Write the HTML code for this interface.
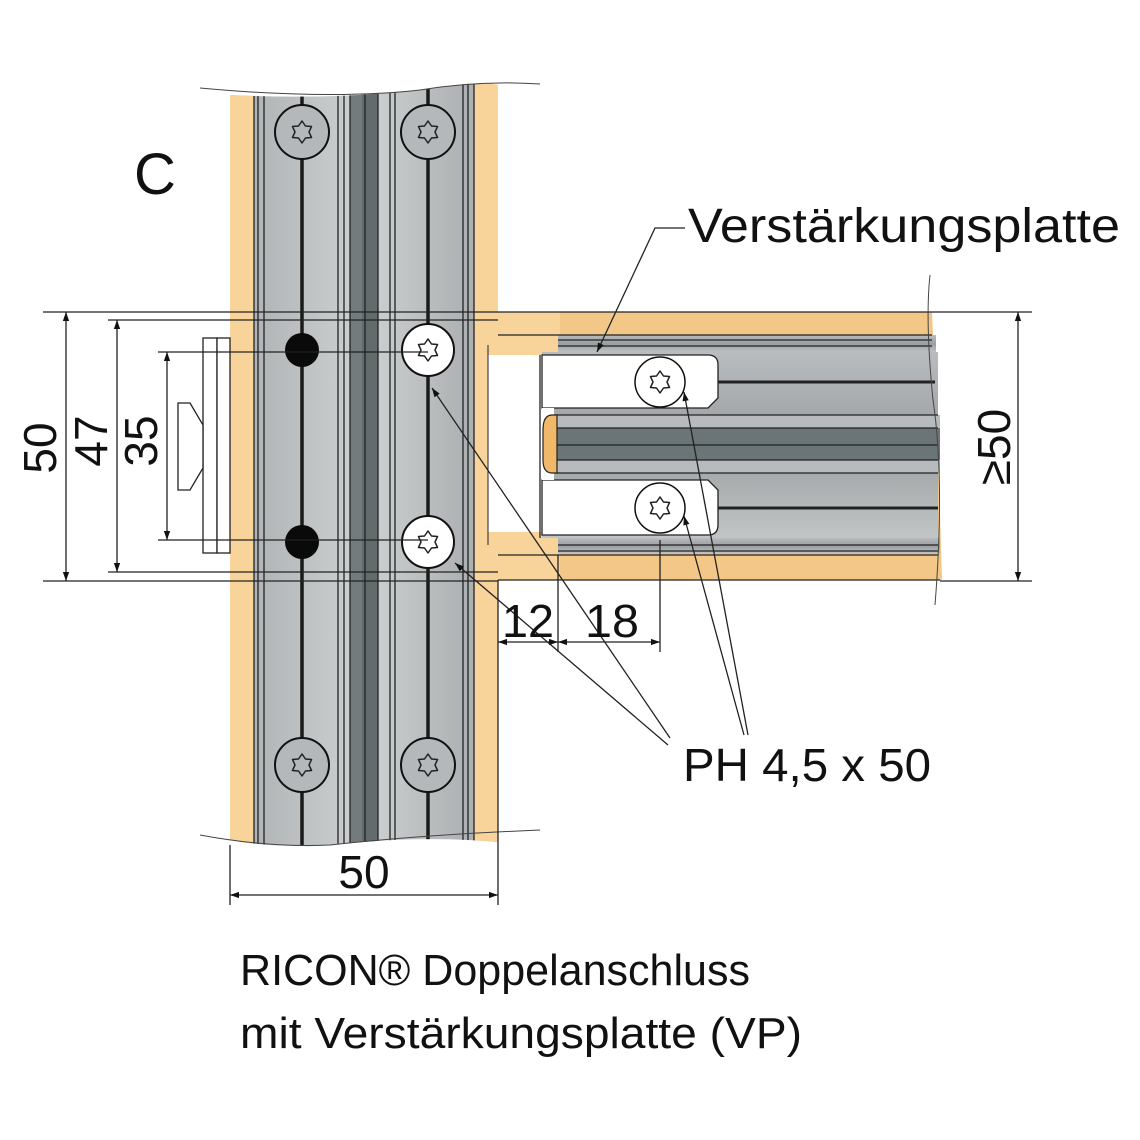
<!DOCTYPE html>
<html><head><meta charset="utf-8"><style>html,body{margin:0;padding:0;background:#fff}svg{display:block}</style></head>
<body>
<svg width="1140" height="1140" viewBox="0 0 1140 1140" xmlns="http://www.w3.org/2000/svg" font-family="'Liberation Sans', sans-serif">
<defs>
<linearGradient id="mg" x1="0" x2="1" y1="0" y2="0">
<stop offset="0" stop-color="#a9adaf"/><stop offset="0.5" stop-color="#cfd2d3"/><stop offset="1" stop-color="#a3a7a9"/>
</linearGradient>
<linearGradient id="hg" x1="0" x2="0" y1="0" y2="1">
<stop offset="0" stop-color="#b9bcbe"/><stop offset="0.5" stop-color="#9a9ea0"/><stop offset="1" stop-color="#c2c5c6"/>
</linearGradient>
<clipPath id="vclip"><path d="M230 95 Q330 100 420 90 Q480 80 498 85 L498 842 Q420 835 330 845 Q270 848 230 840 Z"/></clipPath>
<g id="star"><polygon points="0,-11 3.5,-6 9.53,-5.5 7,0 9.53,5.5 3.5,6 0,11 -3.5,6 -9.53,5.5 -7,0 -9.53,-5.5 -3.5,-6" fill="none" stroke="#222" stroke-width="1.5" stroke-linejoin="round"/></g>
<marker id="ar" viewBox="0 0 10 10" refX="10" refY="5" markerWidth="16" markerHeight="9" orient="auto-start-reverse" markerUnits="userSpaceOnUse"><path d="M0 1.5 L10 5 L0 8.5Z" fill="#111"/></marker>
</defs>

<g clip-path="url(#vclip)">
<rect x="230" y="60" width="268" height="820" fill="url(#mg)"/>
<rect x="230" y="60" width="24" height="820" fill="#f8d49a"/>
<rect x="474" y="60" width="24" height="820" fill="#f8d49a"/>
<rect x="350" y="60" width="28" height="820" fill="#737b7d"/>
<rect x="362" y="60" width="16" height="820" fill="#636b6d"/>
<g stroke="#222" stroke-width="1.3">
<line x1="254" y1="60" x2="254" y2="880"/><line x1="258" y1="60" x2="258" y2="880"/><line x1="264" y1="60" x2="264" y2="880"/>
<line x1="338" y1="60" x2="338" y2="880"/><line x1="344" y1="60" x2="344" y2="880"/>
<line x1="350" y1="60" x2="350" y2="880"/><line x1="365" y1="60" x2="365" y2="880"/><line x1="378" y1="60" x2="378" y2="880"/>
<line x1="390" y1="60" x2="390" y2="880"/><line x1="395" y1="60" x2="395" y2="880"/>
<line x1="463" y1="60" x2="463" y2="880"/><line x1="468" y1="60" x2="468" y2="880"/><line x1="474" y1="60" x2="474" y2="880"/>
</g>
<line x1="302" y1="60" x2="302" y2="880" stroke="#1a1a1a" stroke-width="3.5"/>
<line x1="428" y1="60" x2="428" y2="880" stroke="#1a1a1a" stroke-width="3.5"/>
</g>
<path d="M200 88 Q330 100 420 90 Q480 80 540 84" fill="none" stroke="#444" stroke-width="1"/>
<path d="M200 835 Q270 848 330 845 Q420 835 540 830" fill="none" stroke="#444" stroke-width="1"/>

<g fill="#b4b8ba" stroke="#111" stroke-width="2">
<circle cx="302" cy="132" r="27"/><circle cx="428" cy="132" r="27"/>
<circle cx="302" cy="765" r="27"/><circle cx="428" cy="765" r="27"/>
</g>
<use href="#star" x="302" y="132"/><use href="#star" x="428" y="132"/>
<use href="#star" x="302" y="765"/><use href="#star" x="428" y="765"/>
<circle cx="302" cy="350" r="17" fill="#0a0a0a"/>
<circle cx="302" cy="542" r="17" fill="#0a0a0a"/>
<circle cx="428" cy="350" r="26" fill="#fff" stroke="#111" stroke-width="2"/>
<circle cx="428" cy="542" r="26" fill="#fff" stroke="#111" stroke-width="2"/>
<use href="#star" x="428" y="350"/><use href="#star" x="428" y="542"/>

<path d="M498 312 L932 312 Q938 440 942 580 L498 580 Z" fill="#f3c787"/>
<path d="M486 320 L498 320 L498 312 L560 312 L560 355 L498 355 Q488 355 488 345 Z" fill="#f8d49a"/>
<path d="M488 540 Q488 532 498 532 L560 532 L560 580 L498 580 L498 570 L488 570 Z" fill="#f8d49a"/>
<rect x="488" y="355" width="54" height="177" fill="#fff"/>
<line x1="488" y1="345" x2="488" y2="545" stroke="#222" stroke-width="1"/>
<rect x="558" y="335" width="378" height="18" fill="url(#hg)"/>
<rect x="558" y="538" width="382" height="16" fill="url(#hg)"/>
<rect x="542" y="352" width="396" height="186" fill="url(#hg)"/>
<rect x="555" y="415" width="385" height="58" fill="#6b7476"/>
<rect x="555" y="415" width="385" height="13" fill="#b8bbbd"/>
<rect x="555" y="460" width="385" height="13" fill="#b8bbbd"/>
<g stroke="#222" stroke-width="1.3" fill="none">
<line x1="555" y1="415" x2="938" y2="415"/><line x1="555" y1="428" x2="938" y2="428"/>
<line x1="555" y1="445" x2="938" y2="445"/><line x1="555" y1="460" x2="938" y2="460"/><line x1="555" y1="473" x2="938" y2="473"/>
<line x1="714" y1="382" x2="935" y2="382" stroke-width="3"/>
<line x1="714" y1="508" x2="938" y2="508" stroke-width="3"/>
<line x1="558" y1="340" x2="932" y2="340"/><line x1="558" y1="346" x2="932" y2="346"/>
<line x1="558" y1="545" x2="938" y2="545"/><line x1="558" y1="551" x2="938" y2="551"/>
<line x1="498" y1="312" x2="932" y2="312"/>
<line x1="498" y1="335" x2="932" y2="335"/>
<line x1="498" y1="555" x2="938" y2="555"/>
<line x1="498" y1="580" x2="940" y2="580"/>
<line x1="540" y1="355" x2="540" y2="538"/>
</g>
<path d="M542 355 L708 355 Q718 355 718 365 L718 398 L708 408 L542 408 Z" fill="#fff" stroke="#222" stroke-width="1.3"/>
<path d="M542 480 L708 480 L718 490 L718 525 Q718 535 708 535 L542 535 Z" fill="#fff" stroke="#222" stroke-width="1.3"/>
<rect x="542" y="408" width="12" height="72" fill="#fff"/>
<path d="M557 415 L552 415 Q543 415 543 430 L543 460 Q543 473 552 473 L557 473 Z" fill="#f0b868" stroke="#222" stroke-width="1.2"/>
<circle cx="660" cy="382" r="25" fill="#fff" stroke="#111" stroke-width="1.5"/>
<circle cx="660" cy="508" r="25" fill="#fff" stroke="#111" stroke-width="1.5"/>
<use href="#star" x="660" y="382"/><use href="#star" x="660" y="508"/>
<path d="M930 275 Q925 320 933 400 Q945 480 935 605" fill="none" stroke="#444" stroke-width="1"/>

<g stroke="#222" stroke-width="1.3" fill="#fff">
<rect x="203" y="338" width="14" height="215"/>
<rect x="217" y="338" width="13" height="215"/>
<path d="M178 403 L190 403 L203 425 L203 468 L190 490 L178 490 Z"/>
</g>

<g stroke="#222" stroke-width="1.3" fill="none">
<line x1="43" y1="312" x2="498" y2="312"/>
<line x1="43" y1="581" x2="498" y2="581"/>
<line x1="108" y1="320" x2="498" y2="320"/>
<line x1="108" y1="572" x2="498" y2="572"/>
<line x1="158" y1="352" x2="428" y2="352"/>
<line x1="158" y1="540" x2="428" y2="540"/>
<line x1="66" y1="312" x2="66" y2="581" marker-start="url(#ar)" marker-end="url(#ar)"/>
<line x1="117" y1="320" x2="117" y2="572" marker-start="url(#ar)" marker-end="url(#ar)"/>
<line x1="167" y1="352" x2="167" y2="540" marker-start="url(#ar)" marker-end="url(#ar)"/>
<line x1="932" y1="312" x2="1032" y2="312"/>
<line x1="940" y1="581" x2="1032" y2="581"/>
<line x1="1018" y1="312" x2="1018" y2="581" marker-start="url(#ar)" marker-end="url(#ar)"/>
<line x1="230" y1="845" x2="230" y2="905"/>
<line x1="498" y1="580" x2="498" y2="905"/>
<line x1="230" y1="895" x2="498" y2="895" marker-start="url(#ar)" marker-end="url(#ar)"/>
<line x1="558" y1="555" x2="558" y2="652"/>
<line x1="660" y1="540" x2="660" y2="652"/>
<line x1="498" y1="642" x2="558" y2="642" marker-start="url(#ar)" marker-end="url(#ar)"/>
<line x1="558" y1="642" x2="660" y2="642" marker-start="url(#ar)" marker-end="url(#ar)"/>
<polyline points="597,352 655,228 685,228" marker-start="url(#ar)"/>
<line x1="432" y1="388" x2="670" y2="738" marker-start="url(#ar)"/>
<line x1="455" y1="563" x2="668" y2="745" marker-start="url(#ar)"/>
<line x1="684" y1="392" x2="748" y2="735" marker-start="url(#ar)"/>
<line x1="684" y1="516" x2="744" y2="735" marker-start="url(#ar)"/>
</g>

<g fill="#111">
<text x="134" y="194" font-size="58">C</text>
<text x="688" y="242" font-size="48" textLength="432" lengthAdjust="spacingAndGlyphs">Verstärkungsplatte</text>
<text transform="translate(56,448) rotate(-90)" font-size="46" text-anchor="middle">50</text>
<text transform="translate(107,441) rotate(-90)" font-size="46" text-anchor="middle">47</text>
<text transform="translate(157,441) rotate(-90)" font-size="46" text-anchor="middle">35</text>
<text transform="translate(1010,447) rotate(-90)" font-size="46" text-anchor="middle">≥50</text>
<text x="502" y="637" font-size="46" textLength="52" lengthAdjust="spacingAndGlyphs">12</text>
<text x="585" y="637" font-size="46" textLength="54" lengthAdjust="spacingAndGlyphs">18</text>
<text x="364" y="888" font-size="46" text-anchor="middle">50</text>
<text x="683" y="781" font-size="46" textLength="248" lengthAdjust="spacingAndGlyphs">PH 4,5 x 50</text>
<text x="240" y="985" font-size="44" textLength="510" lengthAdjust="spacingAndGlyphs">RICON® Doppelanschluss</text>
<text x="240" y="1048" font-size="44" textLength="562" lengthAdjust="spacingAndGlyphs">mit Verstärkungsplatte (VP)</text>
</g>
</svg>
</body></html>
